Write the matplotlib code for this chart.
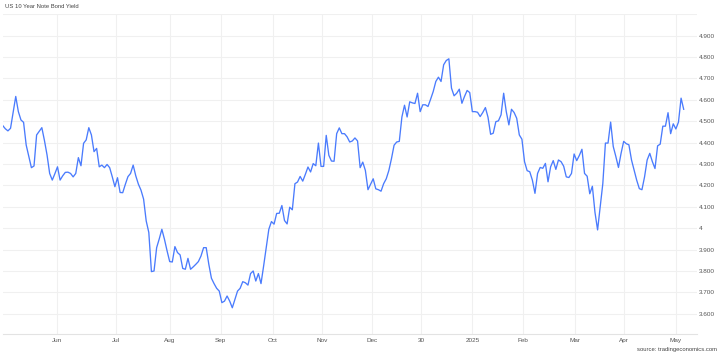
import matplotlib
matplotlib.use("Agg")
import matplotlib.pyplot as plt
import numpy as np

plt.rcParams['font.family'] = ['Liberation Sans', 'DejaVu Sans']

title = "US 10 Year Note Bond Yield"
source = "source: tradingeconomics.com"

# daily yields (percent)
yields = [
    4.48, 4.465, 4.455, 4.467, 4.54, 4.616, 4.545, 4.506, 4.495, 4.389,
    4.335, 4.283, 4.291, 4.436, 4.453, 4.47, 4.41, 4.342, 4.256, 4.225,
    4.255, 4.287, 4.225, 4.245, 4.261, 4.262, 4.256, 4.24, 4.256, 4.33,
    4.292, 4.397, 4.413, 4.47, 4.436, 4.358, 4.373, 4.287, 4.295, 4.283,
    4.298, 4.283, 4.24, 4.194, 4.236, 4.167, 4.166, 4.205, 4.241, 4.256,
    4.295,
    4.245, 4.206, 4.178, 4.136, 4.034, 3.98, 3.797, 3.80, 3.909, 3.95,
    3.995, 3.948, 3.894, 3.844, 3.842, 3.914, 3.886, 3.875, 3.812, 3.808,
    3.859, 3.808, 3.819, 3.831, 3.844, 3.870, 3.909, 3.909, 3.831, 3.766,
    3.741, 3.719, 3.706, 3.652, 3.659, 3.683, 3.659, 3.628, 3.667, 3.706,
    3.719, 3.75, 3.745, 3.734, 3.788, 3.80, 3.753, 3.788, 3.741, 3.823,
    3.909, 3.995, 4.031, 4.019, 4.069,
    4.07, 4.106, 4.036, 4.02, 4.098, 4.086, 4.208, 4.216, 4.242, 4.22,
    4.252, 4.286, 4.263, 4.302, 4.292, 4.398, 4.289, 4.289, 4.434, 4.341,
    4.314, 4.313, 4.442, 4.469, 4.442, 4.442, 4.427, 4.403, 4.408, 4.422,
    4.408, 4.283, 4.309, 4.270, 4.180, 4.205, 4.231, 4.184, 4.180, 4.173,
    4.208, 4.231, 4.270, 4.325, 4.388, 4.403, 4.406, 4.52, 4.575, 4.52,
    4.591, 4.586, 4.583, 4.631,
    4.545, 4.577, 4.577, 4.569, 4.603, 4.639, 4.686, 4.706, 4.686, 4.764,
    4.784, 4.792, 4.655, 4.619, 4.631, 4.65, 4.584, 4.616, 4.644, 4.634,
    4.545, 4.545, 4.542, 4.522, 4.541, 4.564, 4.519, 4.439, 4.444, 4.498,
    4.502, 4.53, 4.631, 4.545, 4.483, 4.556, 4.541, 4.514, 4.436, 4.416,
    4.311, 4.269, 4.264, 4.225, 4.163, 4.256, 4.284, 4.280, 4.303, 4.217,
    4.287, 4.316, 4.275, 4.319,
    4.311, 4.290, 4.240, 4.237, 4.256, 4.347, 4.316, 4.34, 4.369, 4.256,
    4.243, 4.161, 4.196, 4.074, 3.992, 4.098, 4.208, 4.398, 4.398, 4.496,
    4.382, 4.335, 4.284, 4.350, 4.406, 4.395, 4.390, 4.319, 4.271, 4.224,
    4.185, 4.180, 4.240, 4.319, 4.350, 4.311, 4.279, 4.385, 4.393, 4.477,
    4.477, 4.540, 4.442, 4.488, 4.464, 4.496, 4.608, 4.556,
]

# x-axis labels and where they sit along the series (point index)
tick_labels = ["Jun", "Jul", "Aug", "Sep", "Oct", "Nov", "Dec", "30",
               "2025", "Feb", "Mar", "Apr", "May"]
tick_pos = [21, 43.5, 64, 83.5, 103.5, 122.5, 141.5, 160.5,
            180, 199.5, 219.5, 238, 258]

y_ticks = [3.6, 3.7, 3.8, 3.9, 4.0, 4.1, 4.2, 4.3, 4.4, 4.5, 4.6, 4.7, 4.8, 4.9, 5.0]
y_labels = ["3.600", "3.700", "3.800", "3.900", "4", "4.100", "4.200", "4.300",
            "4.400", "4.500", "4.600", "4.700", "4.800", "4.900", ""]

fig = plt.figure(figsize=(7.2, 3.56), dpi=100)
ax = fig.add_axes([0.00375, 0.0632, 0.9643, 0.8966])

x = np.arange(len(yields))
ax.plot(x, yields, color='#4a7bfd', lw=0.95, solid_joinstyle='round')

ax.set_xlim(0, 266.1)
ax.set_ylim(3.5077, 5.0)

ax.set_xticks(tick_pos)
ax.set_xticklabels(tick_labels)
ax.set_yticks(y_ticks)
ax.set_yticklabels(y_labels)
ax.yaxis.tick_right()

ax.tick_params(axis='both', length=0, labelsize=4.6, labelcolor='#555555')
ax.tick_params(axis='x', pad=3.5)
ax.tick_params(axis='y', pad=1.5)

ax.grid(True, color='#f0f0f0', lw=0.8)
ax.set_axisbelow(True)
for side in ['top', 'right', 'left']:
    ax.spines[side].set_visible(False)
ax.spines['bottom'].set_color('#e3e3e3')
ax.spines['bottom'].set_linewidth(0.8)

fig.text(5 / 720, 1 - 7 / 356, title, fontsize=4.2, color='#444444',
         ha='left', va='center')
fig.text(717 / 720, 1 - 350 / 356, source, fontsize=4.2, color='#444444',
         ha='right', va='center')

fig.savefig('out.png', dpi=100)
